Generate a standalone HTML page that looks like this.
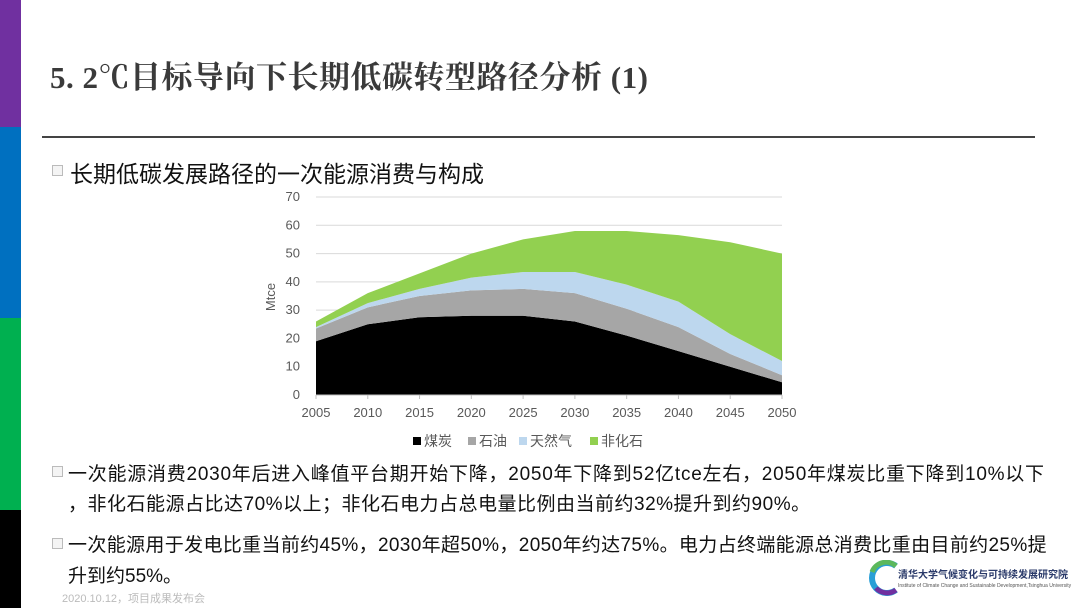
<!DOCTYPE html>
<html><head><meta charset="utf-8"><style>
body{margin:0;width:1080px;height:608px;background:#fff;position:relative;overflow:hidden;font-family:"Liberation Sans","Noto Sans CJK SC",sans-serif}
.abs{position:absolute;white-space:nowrap}
.bar{position:absolute;left:0;width:21px}
.bul{position:absolute;width:9px;height:9px;border:1.5px solid #bbb;background:#f4f4f4}
.txt{font-size:19px;color:#111}
</style></head><body>
<div class="bar" style="top:0;height:127px;background:#7030a0"></div>
<div class="bar" style="top:127px;height:191px;background:#0070c0"></div>
<div class="bar" style="top:318px;height:192px;background:#00b050"></div>
<div class="bar" style="top:510px;height:98px;background:#000"></div>
<div class="abs" style="left:50px;top:52px;font-size:31px;color:#3a3a3a;font-family:'Liberation Serif','Noto Serif CJK SC',serif;font-weight:bold;letter-spacing:0.5px">5. 2℃目标导向下长期低碳转型路径分析 (1)</div>
<div class="abs" style="left:42px;top:136px;width:993px;height:2px;background:#444"></div>
<div class="bul" style="left:52px;top:165px"></div>
<div class="abs" style="left:70px;top:155px;font-size:23px;color:#111">长期低碳发展路径的一次能源消费与构成</div>
<svg id="chart" width="1080" height="608" style="position:absolute;left:0;top:0"></svg>
<div class="bul" style="left:52px;top:466px"></div>
<div class="abs txt" style="left:68px;top:459px;letter-spacing:0.75px">一次能源消费2030年后进入峰值平台期开始下降，2050年下降到52亿tce左右，2050年煤炭比重下降到10%以下</div>
<div class="abs txt" style="left:68px;top:489px;letter-spacing:0.5px">，非化石能源占比达70%以上；非化石电力占总电量比例由当前约32%提升到约90%。</div>
<div class="bul" style="left:52px;top:538px"></div>
<div class="abs txt" style="left:68px;top:530px;letter-spacing:0.35px">一次能源用于发电比重当前约45%，2030年超50%，2050年约达75%。电力占终端能源总消费比重由目前约25%提</div>
<div class="abs txt" style="left:68px;top:561px">升到约55%。</div>
<div class="abs" style="left:62px;top:590px;font-size:11px;color:#bbb">2020.10.12，项目成果发布会</div>
<svg class="abs" style="left:866px;top:560px" width="36" height="36"><path d="M30 6 A15 15 0 1 0 30 30" fill="none" stroke="#2a9fd6" stroke-width="6"/><path d="M30 30 A15 15 0 0 1 10 28" fill="none" stroke="#7030a0" stroke-width="5"/><path d="M6 12 A15 15 0 0 1 30 6" fill="none" stroke="#5cb85c" stroke-width="5"/></svg>
<div class="abs" style="left:898px;top:566px;font-size:10px;color:#2a3a6a;font-weight:bold">清华大学气候变化与可持续发展研究院</div>
<div class="abs" style="left:898px;top:583px;font-size:5px;color:#555">Institute of Climate Change and Sustainable Development,Tsinghua University</div>
<script>
const years=[2005,2010,2015,2020,2025,2030,2035,2040,2045,2050];
const coal=[19,25,27.5,28,28,26,21,15.5,10,4.5];
const oil=[4.5,6,7.5,9,9.5,10,9.5,8.5,4.5,2.5];
const gas=[0.5,1.5,2.5,4.5,6,7.5,8.5,9,7,5];
const nonFossil=[2,3.5,5.5,8.5,11.5,14.5,19,23.5,32.5,38];
const yTicks=[0,10,20,30,40,50,60,70];
const seriesNames=["煤炭","石油","天然气","非化石"];
const colors=["#000000","#a6a6a6","#bdd7ee","#92d050"];
const svg=document.getElementById('chart');const NS='http://www.w3.org/2000/svg';
const X0=316,X1=782,Y0=395,Y1=197;
const x=v=>X0+(v-2005)/(2050-2005)*(X1-X0);
const y=v=>Y0-v/70*(Y0-Y1);
function mk(t,a){const e=document.createElementNS(NS,t);for(const k in a)e.setAttribute(k,a[k]);svg.appendChild(e);return e;}
yTicks.forEach(t=>{
 if(t>0){const g=mk('line',{x1:X0,x2:X1,y1:y(t),y2:y(t),stroke:'#d9d9d9','stroke-width':1});
 
 }
 const l=mk('text',{x:300,y:y(t)+4,'text-anchor':'end','font-size':13,fill:'#595959'});l.textContent=t;
 
 
});
const series=[coal,oil,gas,nonFossil];let base=years.map(()=>0);
series.forEach((s,i)=>{
 const top=base.map((b,j)=>b+s[j]);
 let d='M'+years.map((yr,j)=>x(yr)+','+y(top[j])).join(' L');
 for(let j=years.length-1;j>=0;j--)d+=' L'+x(years[j])+','+y(base[j]);
 const p=mk('path',{d:d+'Z',fill:colors[i]});
 
 
 base=top;
});
mk('line',{x1:X0,x2:X1,y1:Y0,y2:Y0,stroke:'#bfbfbf'});
years.forEach(yr=>{
 mk('line',{x1:x(yr),x2:x(yr),y1:Y0,y2:Y0+4,stroke:'#bfbfbf'});
 const l=mk('text',{x:x(yr),y:417,'text-anchor':'middle','font-size':13,fill:'#595959'});l.textContent=yr;
 
 
});
const yt=mk('text',{x:0,y:0,transform:'translate(275,297) rotate(-90)','text-anchor':'middle','font-size':13,fill:'#595959'});yt.textContent='Mtce';


const lx=[413,468,519,590];
seriesNames.forEach((n,i)=>{
 const r=mk('rect',{x:lx[i],y:437,width:8,height:8,fill:colors[i]});
 
 
 const t=mk('text',{x:lx[i]+11,y:446,'font-size':14,fill:'#595959'});t.textContent=n;
 
 
});
</script>
</body></html>
